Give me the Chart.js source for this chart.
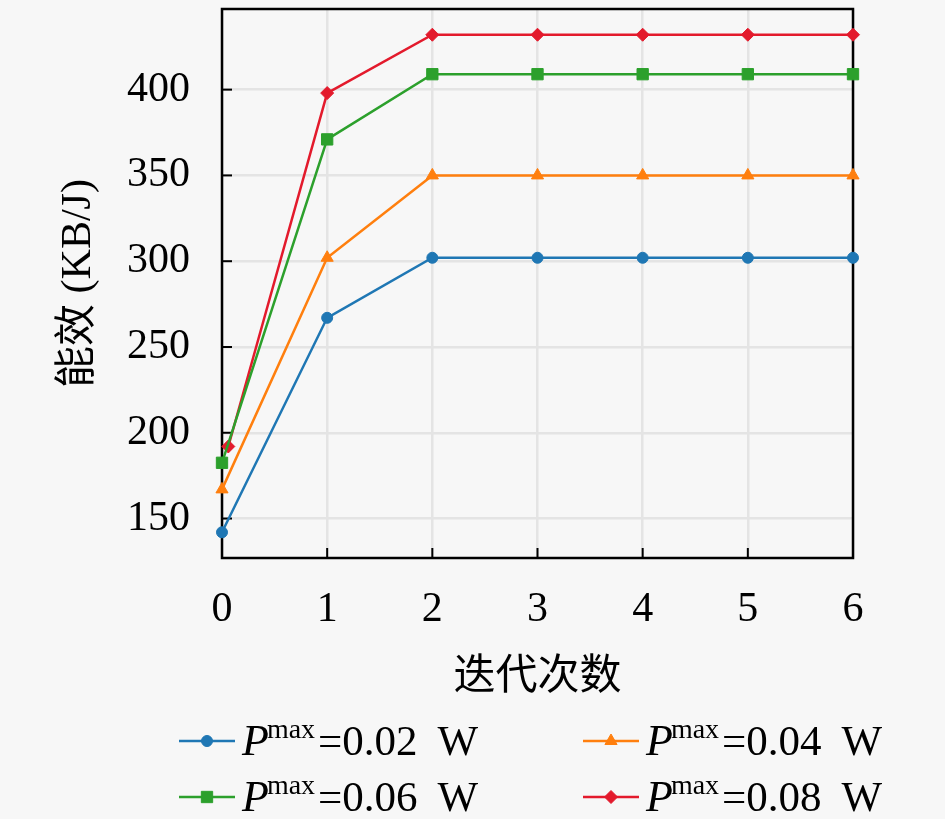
<!DOCTYPE html>
<html>
<head>
<meta charset="utf-8">
<script src="https://cdn.jsdelivr.net/npm/chart.js@4.4.0/dist/chart.umd.min.js"></script>
<style>
  html, body { margin: 0; padding: 0; background: #f7f7f7; }
  #wrap { width: 945px; height: 819px; }
</style>
</head>
<body>
<div id="wrap"><canvas id="chart" width="945" height="819"></canvas></div>
<script>
// values
const iterations = [0, 1, 2, 3, 4, 5, 6];
const iterationsRed = [0.06, 1, 2, 3, 4, 5, 6];
const eff002 = [142, 267, 302, 302, 302, 302, 302];
const eff004 = [167, 302, 350, 350, 350, 350, 350];
const eff006 = [182.5, 371, 409, 409, 409, 409, 409];
const eff008 = [192, 398, 432, 432, 432, 432, 432];
const powerLabels = ['0.02', '0.04', '0.06', '0.08'];
const yTicks = [150, 200, 250, 300, 350, 400];
const xTicks = [0, 1, 2, 3, 4, 5, 6];

const SERIF = "'Liberation Serif', 'Noto Sans CJK SC', serif";

function pts(xs, ys) {
  return ys.map((y, i) => ({ x: xs[i], y: y }));
}

function series(xs, ys, color, style, r) {
  return {
    data: pts(xs, ys),
    borderColor: color,
    backgroundColor: color,
    borderWidth: 2.5,
    pointStyle: style,
    pointRadius: r,
    pointHoverRadius: r,
    pointBorderWidth: 1,
    tension: 0,
    clip: false
  };
}

const datasets = [
  series(iterations, eff002, '#1f77b4', 'circle', 5.5),
  series(iterations, eff004, '#ff7f0e', 'triangle', 7),
  series(iterations, eff006, '#2ca02c', 'rect', 8),
  series(iterationsRed, eff008, '#e31a2c', 'rectRot', 6.5)
];

function drawMarker(ctx, ds, x, y) {
  ctx.save();
  ctx.fillStyle = ds.backgroundColor;
  ctx.strokeStyle = ds.borderColor;
  ctx.lineWidth = 1;
  const r = ds.pointRadius;
  ctx.beginPath();
  if (ds.pointStyle === 'circle') {
    ctx.arc(x, y, r, 0, Math.PI * 2);
  } else if (ds.pointStyle === 'triangle') {
    ctx.moveTo(x, y - r);
    ctx.lineTo(x + r * 0.87, y + r * 0.5);
    ctx.lineTo(x - r * 0.87, y + r * 0.5);
    ctx.closePath();
  } else if (ds.pointStyle === 'rect') {
    const h = r * Math.SQRT1_2;
    ctx.rect(x - h, y - h, 2 * h, 2 * h);
  } else {
    ctx.moveTo(x, y - r);
    ctx.lineTo(x + r, y);
    ctx.lineTo(x, y + r);
    ctx.lineTo(x - r, y);
    ctx.closePath();
  }
  ctx.fill();
  ctx.stroke();
  ctx.restore();
}

const framePlugin = {
  id: 'frame',
  beforeDraw(chart) {
    const ctx = chart.ctx;
    ctx.save();
    ctx.fillStyle = '#f7f7f7';
    ctx.fillRect(0, 0, chart.width, chart.height);
    ctx.restore();
  },
  beforeDatasetsDraw(chart) {
    const { ctx, chartArea: a, scales } = chart;
    ctx.save();
    ctx.strokeStyle = '#000';
    ctx.lineWidth = 2.5;
    ctx.strokeRect(a.left, a.top, a.right - a.left, a.bottom - a.top);
    ctx.lineWidth = 2;
    // inward ticks
    scales.y.ticks.forEach(t => {
      const y = scales.y.getPixelForValue(t.value);
      ctx.beginPath();
      ctx.moveTo(a.left, y);
      ctx.lineTo(a.left + 10, y);
      ctx.stroke();
    });
    scales.x.ticks.forEach(t => {
      const x = scales.x.getPixelForValue(t.value);
      ctx.beginPath();
      ctx.moveTo(x, a.bottom);
      ctx.lineTo(x, a.bottom - 10);
      ctx.stroke();
    });
    ctx.restore();
  },
  afterDraw(chart) {
    const ctx = chart.ctx;
    const cols = [{ lx: 179, tx: 242 }, { lx: 583, tx: 646 }];
    const rows = [741, 797];
    chart.data.datasets.forEach((ds, i) => {
      const c = cols[i % 2];
      const y = rows[Math.floor(i / 2)];
      ctx.save();
      ctx.strokeStyle = ds.borderColor;
      ctx.lineWidth = 2.5;
      ctx.beginPath();
      ctx.moveTo(c.lx, y);
      ctx.lineTo(c.lx + 56, y);
      ctx.stroke();
      drawMarker(ctx, ds, c.lx + 28, y);
      ctx.fillStyle = '#000';
      ctx.textBaseline = 'alphabetic';
      ctx.textAlign = 'left';
      const base = y + 14;
      let x = c.tx;
      ctx.font = "italic 44px 'Liberation Serif', serif";
      ctx.fillText('P', x, base);
      x += ctx.measureText('P').width - 2;
      ctx.font = "28px 'Liberation Serif', serif";
      ctx.fillText('max', x, base - 17);
      x += ctx.measureText('max').width + 3;
      ctx.font = "43px 'Liberation Serif', serif";
      ctx.fillText('=' + powerLabels[i], x, base);
      x += ctx.measureText('=' + powerLabels[i]).width + 20;
      ctx.fillText('W', x, base);
      ctx.restore();
    });
  }
};

new Chart(document.getElementById('chart'), {
  type: 'line',
  data: { datasets: datasets },
  plugins: [framePlugin],
  options: {
    responsive: false,
    animation: false,
    devicePixelRatio: 1,
    layout: { padding: { top: 9, right: 92, bottom: 116, left: 0 } },
    plugins: { legend: { display: false }, tooltip: { enabled: false } },
    scales: {
      x: {
        type: 'linear',
        min: 0,
        max: 6,
        afterFit: s => { s.height = 145; s.paddingLeft = 0; s.paddingRight = 0; },
        afterBuildTicks: s => { s.ticks = xTicks.map(v => ({ value: v })); },
        grid: { color: '#e4e4e4', lineWidth: 2.5, drawTicks: false },
        border: { display: false },
        ticks: {
          color: '#000',
          padding: 27,
          font: { family: SERIF, size: 42 },
          callback: v => String(v)
        },
        title: {
          display: true,
          text: '迭代次数',
          color: '#000',
          font: { family: SERIF, size: 42 },
          padding: { top: 0, bottom: 0 }
        }
      },
      y: {
        type: 'linear',
        min: 127,
        max: 447,
        afterFit: s => { s.width = 222; s.paddingTop = 0; s.paddingBottom = 0; },
        afterBuildTicks: s => { s.ticks = yTicks.map(v => ({ value: v })); },
        grid: { color: '#e4e4e4', lineWidth: 2.5, drawTicks: false },
        border: { display: false },
        ticks: {
          color: '#000',
          padding: 32,
          font: { family: SERIF, size: 42 },
          callback: v => String(v)
        },
        title: {
          display: true,
          text: '能效 (KB/J)',
          color: '#000',
          font: { family: SERIF, size: 42 },
          padding: { top: 54, bottom: 0 }
        }
      }
    }
  }
});
</script>
</body>
</html>
